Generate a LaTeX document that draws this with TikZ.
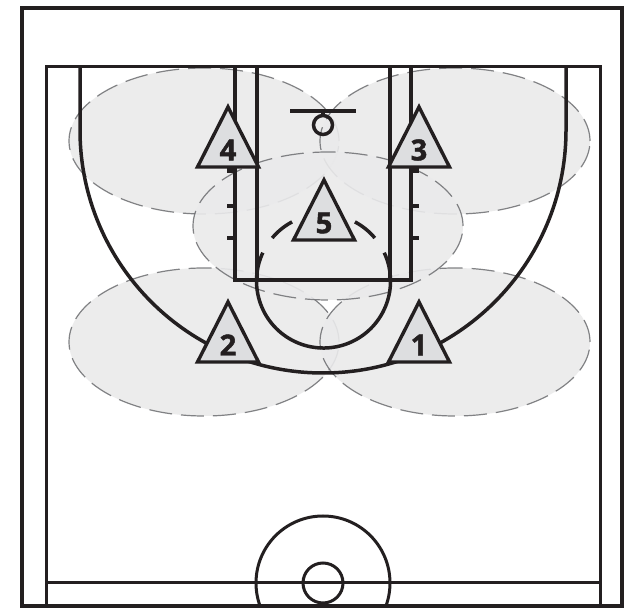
\documentclass[tikz,border=0pt]{standalone}
\usepackage{fontspec}
\setmainfont[BoldFeatures={FakeBold=1.6}]{Open Sans}
\definecolor{ink}{HTML}{231F20}
\definecolor{zonefill}{HTML}{EAEAEB}
\definecolor{zoneline}{HTML}{6D6E71}
\definecolor{playerfill}{HTML}{DDDEE0}
\tikzset{
  x=1pt,y=1pt,
  court/.style={draw=ink,line width=3.5pt},
  thin court/.style={draw=ink,line width=3pt},
  zone/.style={fill=zonefill,fill opacity=.9,draw=zoneline,draw opacity=.85,line width=1.2pt,dash pattern=on 23pt off 9pt},
  player/.style={fill=playerfill,draw=ink,line width=3.4pt,line join=miter},
  number/.style={font=\bfseries\fontsize{29}{29}\selectfont,text=ink,inner sep=0pt}
}
\newcommand{\playertri}[4]{% name, apex x, apex y, label
  \draw[player] (#2,#3) -- (#2-30.5,#3-60) -- (#2+30.5,#3-60) -- cycle;
  \node[number] (#1) at (#2,#3-43) {#4};
}
\begin{document}
\begin{tikzpicture}
\useasboundingbox (0,0) rectangle (631,609);
\fill[white] (0,0) rectangle (631,609);
% zones
\path[zone] (204,468) ellipse [x radius=135pt,y radius=73pt];
\path[zone] (455,468) ellipse [x radius=135pt,y radius=73pt];
\path[zone] (204,267) ellipse [x radius=135pt,y radius=74pt];
\path[zone] (455,267) ellipse [x radius=135pt,y radius=74pt];
\path[zone] (328,383) ellipse [x radius=135pt,y radius=74pt];
% court frame
\draw[court] (22,3) rectangle (622,601);
\draw[thin court] (46,3) -- (46,542) -- (600,542) -- (600,3);
\draw[thin court] (46,26) -- (600,26);
\begin{scope}
  \clip (22,3) rectangle (622,601);
  \draw[thin court] (323,26) circle [radius=67pt];
  \draw[thin court] (323,26) circle [radius=20pt];
\end{scope}
% three-point line
\draw[court] (80,542) -- (80,479) arc [start angle=180,end angle=360,radius=243pt] -- (566,542);
% lane
\draw[court] (235,542) -- (235,329) -- (411,329) -- (411,542);
\draw[court] (257,542) -- (257,329);
\draw[court] (390,542) -- (390,329);
\draw[court] (235,403) -- (227,403) (235,371) -- (227,371);
\draw[court] (411,403) -- (419,403) (411,371) -- (419,371);
\fill[ink] (227,441) rectangle (235,436);
\fill[ink] (411,441) rectangle (419,436);
% free-throw circle
\draw[court] (262.8,356.3) arc [start angle=155,end angle=385,radius=67pt];
\draw[court] (272.2,371) arc [start angle=140,end angle=118,radius=67pt];
\draw[court] (374.8,371) arc [start angle=40,end angle=62,radius=67pt];
% basket
\draw[court] (290,498) -- (356,498);
\draw[court] (323,498) -- (323,494);
\draw[court] (323,484) circle [radius=9.5pt];
% players
\playertri{pfour}{228}{502}{4}
\playertri{pthree}{419}{502}{3}
\playertri{pfive}{324}{429}{5}
\playertri{ptwo}{228}{307}{2}
\playertri{pone}{419}{307}{1}
\end{tikzpicture}
\end{document}
